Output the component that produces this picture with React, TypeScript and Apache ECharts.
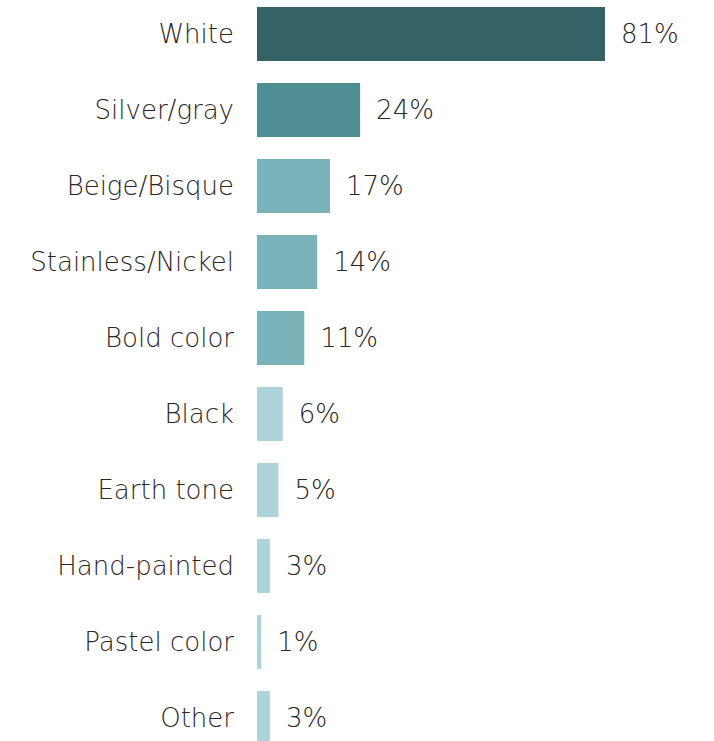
import React, { useEffect, useRef } from "react";
import * as echarts from "echarts";

const categories = [
  "White",
  "Silver/gray",
  "Beige/Bisque",
  "Stainless/Nickel",
  "Bold color",
  "Black",
  "Earth tone",
  "Hand-painted",
  "Pastel color",
  "Other",
];
const values = [81, 24, 17, 14, 11, 6, 5, 3, 1, 3];
const colors = [
  "#356266",
  "#4f8f94",
  "#79b3b9",
  "#79b3b9",
  "#79b3b9",
  "#acd3d7",
  "#acd3d7",
  "#acd3d7",
  "#acd3d7",
  "#acd3d7",
];

export default function App() {
  const ref = useRef<HTMLDivElement>(null);
  useEffect(() => {
    if (!ref.current) return;
    const chart = echarts.init(ref.current, null, { renderer: "svg" });
    const font = "'DejaVu Sans', 'Open Sans', sans-serif";
    chart.setOption({
      animation: false,
      grid: { left: 257, top: 0, width: 429.6, height: 760, containLabel: false },
      xAxis: {
        type: "value",
        min: 0,
        max: 100,
        show: false,
      },
      yAxis: {
        type: "category",
        data: categories,
        inverse: true,
        axisLine: { show: false },
        axisTick: { show: false },
        splitLine: { show: false },
        axisLabel: {
          margin: 23,
          fontSize: 26,
          fontFamily: font,
          fontWeight: 200,
          color: "#2b2525",
        },
      },
      series: [
        {
          type: "bar",
          barWidth: 54,
          data: values.map((v, i) => ({ value: v, itemStyle: { color: colors[i] } })),
          label: {
            show: true,
            position: "right",
            distance: 16,
            formatter: "{c}%",
            fontSize: 26,
            fontFamily: font,
            fontWeight: 200,
            color: "#2b2525",
          },
        },
      ],
    });
    return () => chart.dispose();
  }, []);
  return (
    <div style={{ position: "fixed", left: 0, top: 0, width: 714, height: 741, overflow: "hidden", background: "#fff" }}>
      <div
        ref={ref}
        style={{ position: "absolute", left: 0, top: -4, width: 714, height: 770 }}
      />
    </div>
  );
}
